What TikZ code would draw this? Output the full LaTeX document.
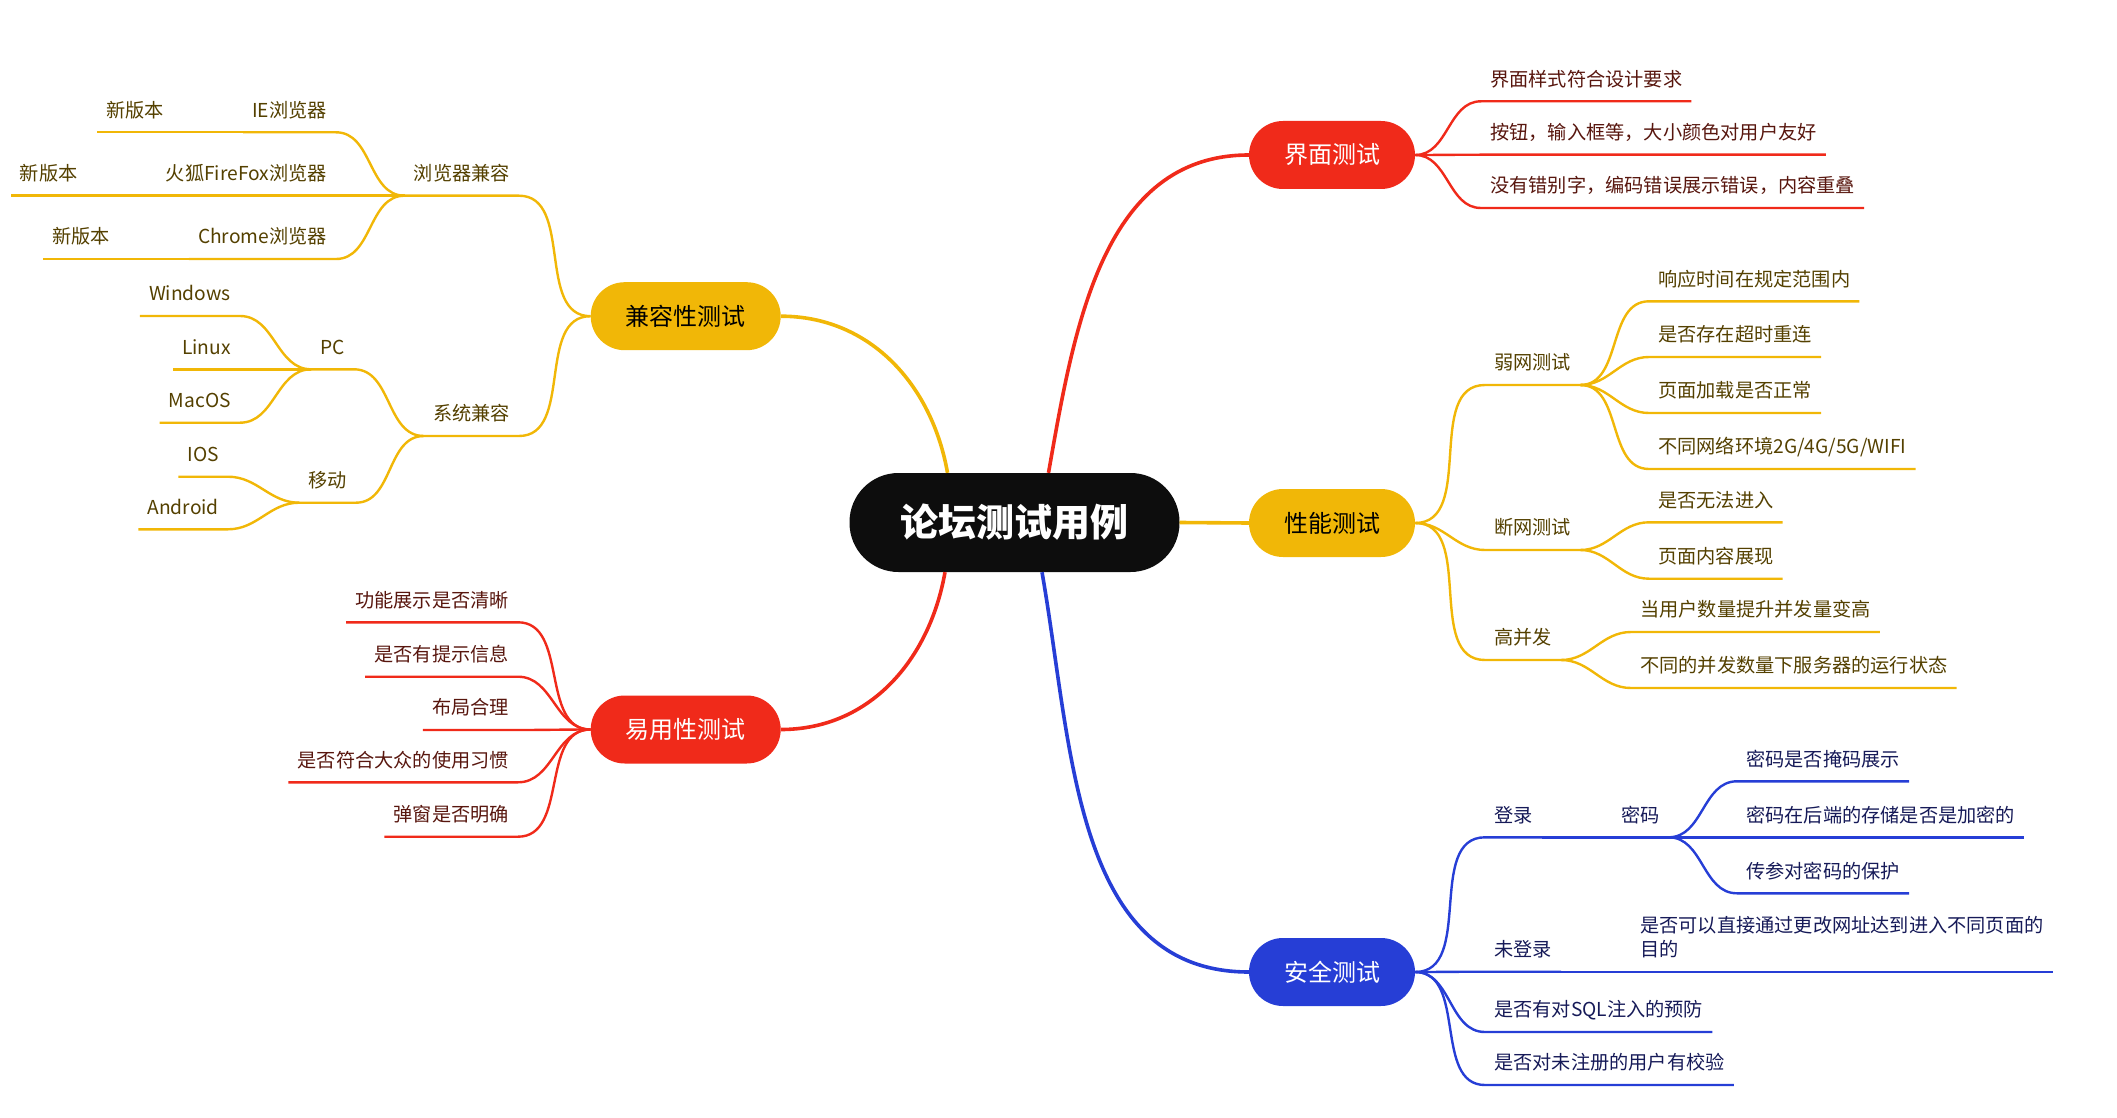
\documentclass[tikz,border=0pt]{standalone}
\usepackage{fontspec}
\setmainfont{Noto Sans CJK SC}
\usepackage{xcolor}
\usetikzlibrary{positioning}
\definecolor{myred}{RGB}{240, 42, 26}
\definecolor{myyellow}{RGB}{241, 183, 7}
\definecolor{myblue}{RGB}{38, 62, 214}
\definecolor{myblack}{RGB}{13, 13, 13}
\definecolor{redtext}{RGB}{88, 22, 14}
\definecolor{yellowtext}{RGB}{84, 64, 0}
\definecolor{bluetext}{RGB}{22, 26, 88}

\tikzset{
  topic/.style={rounded corners=34pt, minimum height=68pt, inner xsep=35pt, inner ysep=0pt,
    font=\fontsize{24}{28}\selectfont},
  leafR/.style={anchor=south west, inner xsep=9pt, inner ysep=0pt, text height=15pt,
    text depth=15pt, font=\fontsize{19.2}{24}\selectfont},
  leafL/.style={leafR, anchor=south east},
  trunk/.style={line width=3.6pt},
  branch/.style={line width=2.4pt, line join=round},
}

\begin{document}
\begin{tikzpicture}[x=1pt, y=1pt]
\useasboundingbox (0,0) rectangle (2117,-1118);

\node[fill=myblack, text=white, rounded corners=49pt, minimum width=330pt, minimum height=99pt,
  font=\fontsize{38}{44}\selectfont\bfseries] (title) at (1014.5,-522.5) {论坛测试用例};

% 界面测试
\begin{scope}[draw=myred, text=redtext]
\node[topic, fill=myred, text=white] (ui) at (1332,-155) {界面测试};
\node[leafR] (ui1) at (1481,-101.3) {界面样式符合设计要求};
\node[leafR] (ui2) at (1481,-154.7) {按钮，输入框等，大小颜色对用户友好};
\node[leafR] (ui3) at (1481,-208) {没有错别字，编码错误展示错误，内容重叠};
\draw[trunk] ([xshift=34pt]title.north) to[out=80,in=180] (ui.west);
\draw[branch] (ui.east) to[out=0,in=180] (ui1.south west) -- (ui1.south east);
\draw[branch] (ui.east) to[out=0,in=180] (ui2.south west) -- (ui2.south east);
\draw[branch] (ui.east) to[out=0,in=180] (ui3.south west) -- (ui3.south east);
\end{scope}

% 性能测试
\begin{scope}[draw=myyellow, text=yellowtext]
\node[topic, fill=myyellow, text=black] (perf) at (1332,-523) {性能测试};
\node[leafR] (weak) at (1485,-385) {弱网测试};
\node[leafR] (weak1) at (1649,-301.3) {响应时间在规定范围内};
\node[leafR] (weak2) at (1649,-357) {是否存在超时重连};
\node[leafR] (weak3) at (1649,-413) {页面加载是否正常};
\node[leafR] (weak4) at (1649,-469) {不同网络环境2G/4G/5G/WIFI};
\node[leafR] (off) at (1485,-550) {断网测试};
\node[leafR] (off1) at (1649,-522.3) {是否无法进入};
\node[leafR] (off2) at (1649,-578.7) {页面内容展现};
\node[leafR] (conc) at (1485,-660) {高并发};
\node[leafR] (conc1) at (1631,-632) {当用户数量提升并发量变高};
\node[leafR] (conc2) at (1631,-688) {不同的并发数量下服务器的运行状态};
\draw[trunk] (title.east) -- (perf.west);
\draw[branch] (perf.east) to[out=0,in=180] (weak.south west) -- (weak.south east);
\draw[branch] (weak.south east) to[out=0,in=180] (weak1.south west) -- (weak1.south east);
\draw[branch] (weak.south east) to[out=0,in=180] (weak2.south west) -- (weak2.south east);
\draw[branch] (weak.south east) to[out=0,in=180] (weak3.south west) -- (weak3.south east);
\draw[branch] (weak.south east) to[out=0,in=180] (weak4.south west) -- (weak4.south east);
\draw[branch] (perf.east) to[out=0,in=180] (off.south west) -- (off.south east);
\draw[branch] (off.south east) to[out=0,in=180] (off1.south west) -- (off1.south east);
\draw[branch] (off.south east) to[out=0,in=180] (off2.south west) -- (off2.south east);
\draw[branch] (perf.east) to[out=0,in=180] (conc.south west) -- (conc.south east);
\draw[branch] (conc.south east) to[out=0,in=180] (conc1.south west) -- (conc1.south east);
\draw[branch] (conc.south east) to[out=0,in=180] (conc2.south west) -- (conc2.south east);
\end{scope}

% 安全测试
\begin{scope}[draw=myblue, text=bluetext]
\node[topic, fill=myblue, text=white] (sec) at (1332,-972) {安全测试};
\node[leafR] (login) at (1485,-837.3) {登录};
\node[leafR, right=70pt of login] (pwd) {密码};
\node[leafR] (pwd1) at (1737,-781.3) {密码是否掩码展示};
\node[leafR] (pwd2) at (1737,-837.3) {密码在后端的存储是否是加密的};
\node[leafR] (pwd3) at (1737,-893.3) {传参对密码的保护};
\node[leafR] (nologin) at (1485,-971.7) {未登录};
\node[leafR, right=70pt of nologin.south east, anchor=south west] (url)
  {\begin{tabular}[b]{@{}l@{}}是否可以直接通过更改网址达到进入不同页面的\\目的\end{tabular}};
\node[leafR] (sql) at (1485,-1032) {是否有对SQL注入的预防};
\node[leafR] (reg) at (1485,-1085) {是否对未注册的用户有校验};
\draw[trunk] ([xshift=27.5pt]title.south) to[out=-80,in=180] (sec.west);
\draw[branch] (sec.east) to[out=0,in=180] (login.south west) -- (login.south east);
\draw[branch] (login.south east) -- (pwd.south west) -- (pwd.south east);
\draw[branch] (pwd.south east) to[out=0,in=180] (pwd1.south west) -- (pwd1.south east);
\draw[branch] (pwd.south east) to[out=0,in=180] (pwd2.south west) -- (pwd2.south east);
\draw[branch] (pwd.south east) to[out=0,in=180] (pwd3.south west) -- (pwd3.south east);
\draw[branch] (sec.east) to[out=0,in=180] (nologin.south west) -- (nologin.south east);
\draw[branch] (nologin.south east) -- (url.south west) -- (url.south east);
\draw[branch] (sec.east) to[out=0,in=180] (sql.south west) -- (sql.south east);
\draw[branch] (sec.east) to[out=0,in=180] (reg.south west) -- (reg.south east);
\end{scope}

% 兼容性测试
\begin{scope}[draw=myyellow, text=yellowtext]
\node[topic, fill=myyellow, text=black] (compat) at (685.7,-316.2) {兼容性测试};
\node[leafL] (browser) at (519,-195.7) {浏览器兼容};
\node[leafL] (ie) at (336,-132.3) {IE浏览器};
\node[leafL, left=70pt of ie] (ienew) {新版本};
\node[leafL] (firefox) at (336,-195.7) {火狐FireFox浏览器};
\node[leafL, left=70pt of firefox] (ffnew) {新版本};
\node[leafL] (chrome) at (336,-259) {Chrome浏览器};
\node[leafL, left=70pt of chrome] (chnew) {新版本};
\node[leafL] (system) at (519,-436) {系统兼容};
\node[leafL] (pc) at (354,-369.3) {PC};
\node[leafL] (win) at (240,-316) {Windows};
\node[leafL] (linux) at (240,-369.3) {Linux};
\node[leafL] (mac) at (240,-422.7) {MacOS};
\node[leafL] (mobile) at (356,-502.7) {移动};
\node[leafL] (ios) at (228,-476.7) {IOS};
\node[leafL] (android) at (228,-529.3) {Android};
\draw[trunk] ([xshift=-67pt]title.north) to[out=100,in=0] (compat.east);
\draw[branch] (compat.west) to[out=180,in=0] (browser.south east) -- (browser.south west);
\draw[branch] (browser.south west) to[out=180,in=0] (ie.south east) -- (ie.south west);
\draw[branch] (ie.south west) -- (ienew.south east) -- (ienew.south west);
\draw[branch] (browser.south west) to[out=180,in=0] (firefox.south east) -- (firefox.south west);
\draw[branch] (firefox.south west) -- (ffnew.south east) -- (ffnew.south west);
\draw[branch] (browser.south west) to[out=180,in=0] (chrome.south east) -- (chrome.south west);
\draw[branch] (chrome.south west) -- (chnew.south east) -- (chnew.south west);
\draw[branch] (compat.west) to[out=180,in=0] (system.south east) -- (system.south west);
\draw[branch] (system.south west) to[out=180,in=0] (pc.south east) -- (pc.south west);
\draw[branch] (pc.south west) to[out=180,in=0] (win.south east) -- (win.south west);
\draw[branch] (pc.south west) to[out=180,in=0] (linux.south east) -- (linux.south west);
\draw[branch] (pc.south west) to[out=180,in=0] (mac.south east) -- (mac.south west);
\draw[branch] (system.south west) to[out=180,in=0] (mobile.south east) -- (mobile.south west);
\draw[branch] (mobile.south west) to[out=180,in=0] (ios.south east) -- (ios.south west);
\draw[branch] (mobile.south west) to[out=180,in=0] (android.south east) -- (android.south west);
\end{scope}

% 易用性测试
\begin{scope}[draw=myred, text=redtext]
\node[topic, fill=myred, text=white] (usab) at (685.7,-729.5) {易用性测试};
\node[leafL] (usab1) at (518,-622.3) {功能展示是否清晰};
\node[leafL] (usab2) at (518,-676.7) {是否有提示信息};
\node[leafL] (usab3) at (518,-730) {布局合理};
\node[leafL] (usab4) at (518,-782.3) {是否符合大众的使用习惯};
\node[leafL] (usab5) at (518,-836.7) {弹窗是否明确};
\draw[trunk] ([xshift=-69.5pt]title.south) to[out=-100,in=0] (usab.east);
\draw[branch] (usab.west) to[out=180,in=0] (usab1.south east) -- (usab1.south west);
\draw[branch] (usab.west) to[out=180,in=0] (usab2.south east) -- (usab2.south west);
\draw[branch] (usab.west) to[out=180,in=0] (usab3.south east) -- (usab3.south west);
\draw[branch] (usab.west) to[out=180,in=0] (usab4.south east) -- (usab4.south west);
\draw[branch] (usab.west) to[out=180,in=0] (usab5.south east) -- (usab5.south west);
\end{scope}
\end{tikzpicture}
\end{document}
